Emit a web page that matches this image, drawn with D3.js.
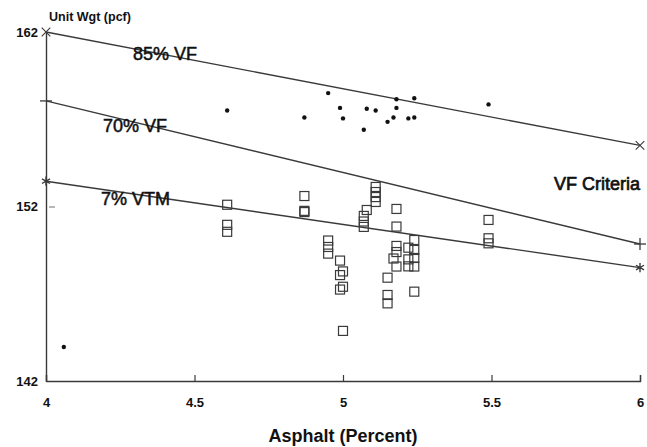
<!DOCTYPE html>
<html>
<head>
<meta charset="utf-8">
<script src="https://cdn.jsdelivr.net/npm/d3@7/dist/d3.min.js"></script>
<style>
body { margin: 0; background: #fff; }
svg { font-family: "Liberation Sans", Arial, sans-serif; }
</style>
</head>
<body>
<script>
// data
var xTicks = [4, 4.5, 5, 5.5, 6];
var yTicks = [142, 152, 162];

// VF criteria lines: [asphalt, unit weight] at both ends
var line85 = [[4, 162], [6, 155.5]];
var line70 = [[4, 158.05], [6, 149.85]];
var line7 = [[4, 153.45], [6, 148.5]];

// measured points (dots)
var dots = [
  [4.61, 157.5], [4.87, 157.1], [4.95, 158.5], [4.99, 157.65], [5.0, 157.05],
  [5.07, 156.4], [5.08, 157.6], [5.11, 157.5], [5.15, 156.85], [5.17, 157.1],
  [5.18, 158.15], [5.18, 157.65], [5.22, 157.05], [5.24, 157.1], [5.24, 158.2],
  [5.49, 157.85], [4.06, 143.95]
];

// measured points (squares)
var squares = [
  [4.61, 152.1], [4.61, 150.95], [4.61, 150.55],
  [4.87, 152.6], [4.87, 151.75], [4.87, 151.68],
  [4.95, 150.05], [4.95, 149.68], [4.95, 149.3],
  [4.99, 148.9], [5.0, 148.28], [4.99, 148.07], [5.0, 147.4], [4.99, 147.24], [5.0, 144.87],
  [5.11, 153.12], [5.11, 152.83], [5.11, 152.54], [5.11, 152.26],
  [5.08, 151.8], [5.07, 151.46], [5.07, 151.14], [5.07, 150.83],
  [5.18, 151.86], [5.18, 150.85], [5.18, 149.74], [5.18, 149.39], [5.17, 149.02], [5.18, 148.56],
  [5.15, 147.92], [5.15, 146.93], [5.15, 146.45],
  [5.22, 149.64], [5.22, 148.97], [5.22, 148.57],
  [5.24, 150.08], [5.24, 149.51], [5.24, 149.05], [5.24, 148.56], [5.24, 147.12],
  [5.49, 151.23], [5.49, 150.18], [5.49, 149.89]
];

var width = 647, height = 447;
var svg = d3.select("body").append("svg").attr("width", width).attr("height", height);

var x = d3.scaleLinear().domain([4, 6]).range([46, 640]);
var y = d3.scaleLinear().domain([142, 162]).range([381, 32]);

var ink = "#3a3a3a";

// axes
var xAxis = svg.append("g").attr("transform", "translate(0," + y(142) + ")")
  .call(d3.axisBottom(x).tickValues(xTicks).tickSize(-6).tickFormat(function(d) { return d; }));
var yAxis = svg.append("g").attr("transform", "translate(" + x(4) + ",0)")
  .call(d3.axisLeft(y).tickValues(yTicks).tickSize(0).tickFormat(function(d) { return d; }));

[xAxis, yAxis].forEach(function(a) {
  a.select(".domain").attr("stroke", ink).attr("stroke-width", 1.4);
  a.selectAll(".tick line").attr("stroke", ink).attr("stroke-width", 1.2);
  a.selectAll(".tick text").attr("fill", "#111").attr("font-size", 13).attr("font-weight", "bold")
    .attr("font-family", "'Liberation Sans', Arial, sans-serif");
});
xAxis.selectAll(".tick text").attr("dy", 0).attr("y", 26);
yAxis.selectAll(".tick text").attr("x", -8);
// small inner tick at 152
yAxis.selectAll(".tick line").filter(function(d) { return d === 152; })
  .attr("x1", 3).attr("x2", 9).attr("stroke", "#888");

// criteria lines
var line = d3.line().x(function(d) { return x(d[0]); }).y(function(d) { return y(d[1]); });
[line85, line70, line7].forEach(function(l) {
  svg.append("path").datum(l).attr("d", line)
    .attr("fill", "none").attr("stroke", ink).attr("stroke-width", 1.4);
});

// end markers
var crossSym = d3.symbol().type(d3.symbolX).size(50);
line85.forEach(function(p) {
  svg.append("path").attr("d", crossSym())
    .attr("transform", "translate(" + x(p[0]) + "," + y(p[1]) + ")")
    .attr("fill", "none").attr("stroke", ink).attr("stroke-width", 1.1);
});
line70.forEach(function(p, i) {
  var px = x(p[0]), py = y(p[1]);
  svg.append("line").attr("x1", px - 6).attr("x2", px + 6).attr("y1", py).attr("y2", py)
    .attr("stroke", ink).attr("stroke-width", 1.3);
  if (i === 1) {
    svg.append("line").attr("x1", px).attr("x2", px).attr("y1", py - 6).attr("y2", py + 6)
      .attr("stroke", ink).attr("stroke-width", 1.3);
  }
});
var starSym = d3.symbol().type(d3.symbolAsterisk).size(60);
line7.forEach(function(p) {
  svg.append("path").attr("d", starSym())
    .attr("transform", "translate(" + x(p[0]) + "," + y(p[1]) + ")")
    .attr("fill", "none").attr("stroke", ink).attr("stroke-width", 1.4);
});

// data points
svg.selectAll(".sq").data(squares).enter().append("rect")
  .attr("x", function(d) { return x(d[0]) - 4.5; })
  .attr("y", function(d) { return y(d[1]) - 4.5; })
  .attr("width", 9).attr("height", 9)
  .attr("fill", "none").attr("stroke", "#3a3a3a").attr("stroke-width", 1.2);

svg.selectAll(".dot").data(dots).enter().append("circle")
  .attr("cx", function(d) { return x(d[0]); })
  .attr("cy", function(d) { return y(d[1]); })
  .attr("r", 2.2).attr("fill", "#111");

// text
function label(t, px, py, size, weight, anchor, heavy) {
  svg.append("text").attr("x", px).attr("y", py).text(t)
    .attr("font-size", size).attr("font-weight", weight || "normal")
    .attr("text-anchor", anchor || "start").attr("fill", "#111")
    .attr("stroke", "#111").attr("stroke-width", heavy || 0);
}
label("Unit Wgt (pcf)", 49, 21, 12.5, "bold");
label("85% VF", 133, 60, 18, "normal", "start", 0.5);
label("70% VF", 103, 132, 18, "normal", "start", 0.5);
label("7% VTM", 101, 205, 18, "normal", "start", 0.5);
label("VF Criteria", 640, 190, 18, "normal", "end", 0.7);
label("Asphalt (Percent)", x(5), 442, 18, "bold", "middle");
</script>
</body>
</html>
